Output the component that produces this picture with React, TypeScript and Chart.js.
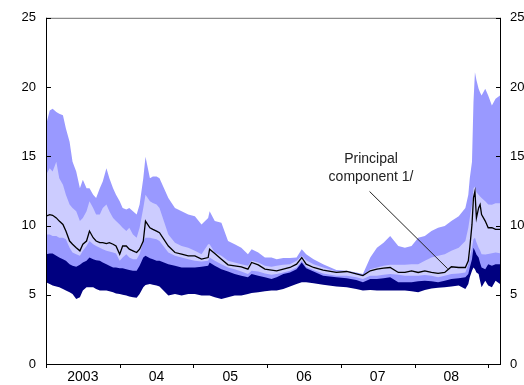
import React, { useEffect, useRef } from "react";
import { Chart, registerables } from "chart.js";

Chart.register(...registerables);

// Time axis (decimal years)
const dates = [
  2003.0, 2003.05, 2003.09, 2003.14, 2003.18, 2003.23, 2003.27, 2003.32, 2003.36, 2003.41,
  2003.46, 2003.5, 2003.55, 2003.59, 2003.64, 2003.68, 2003.73, 2003.77, 2003.82, 2003.86,
  2003.91, 2003.95, 2004.0, 2004.04, 2004.09, 2004.13, 2004.18, 2004.23, 2004.27, 2004.32,
  2004.35, 2004.41, 2004.45, 2004.5, 2004.54, 2004.66, 2004.75, 2004.84, 2004.93, 2005.02,
  2005.11, 2005.2, 2005.22, 2005.29, 2005.38, 2005.47, 2005.56, 2005.65, 2005.74, 2005.79,
  2005.88, 2005.97, 2006.06, 2006.13, 2006.22, 2006.31, 2006.4, 2006.47, 2006.53, 2006.63,
  2006.76, 2006.94, 2007.08, 2007.21, 2007.3, 2007.4, 2007.49, 2007.58, 2007.67, 2007.78,
  2007.87, 2007.96, 2008.05, 2008.14, 2008.23, 2008.32, 2008.41, 2008.5, 2008.6, 2008.69,
  2008.73, 2008.75, 2008.78, 2008.8, 2008.82, 2008.84, 2008.87, 2008.89, 2008.91, 2008.96,
  2009.0, 2009.05, 2009.1, 2009.16,
];

// Lower edge of the dark band (minimum)
const lowEdge = [
  5.9, 5.78, 5.66, 5.6, 5.54, 5.42, 5.3, 5.18, 5.06, 4.7,
  4.82, 5.3, 5.54, 5.54, 5.54, 5.42, 5.3, 5.3, 5.3, 5.25,
  5.18, 5.1, 5.06, 5.0, 4.94, 4.87, 4.82, 4.78, 5.06, 5.54,
  5.7, 5.78, 5.73, 5.66, 5.6, 4.94, 5.06, 4.94, 5.06, 5.06,
  4.94, 4.94, 4.94, 4.82, 4.7, 4.82, 4.94, 4.94, 5.06, 5.12,
  5.18, 5.25, 5.3, 5.3, 5.42, 5.6, 5.78, 5.9, 5.9, 5.83,
  5.73, 5.6, 5.54, 5.42, 5.3, 5.35, 5.3, 5.3, 5.3, 5.3,
  5.3, 5.25, 5.18, 5.35, 5.45, 5.5, 5.55, 5.6, 5.66, 5.42,
  5.78, 6.26, 6.73, 6.97, 6.85, 6.6, 6.5, 6.0, 5.54, 6.02,
  5.66, 5.54, 6.02, 5.78,
];

// Upper edge of the dark band
const darkTop = [
  7.93, 7.98, 7.98, 7.81, 7.69, 7.57, 7.45, 7.21, 7.09, 7.02,
  7.16, 7.33, 7.45, 7.69, 7.57, 7.5, 7.45, 7.33, 7.21, 7.09,
  6.97, 6.97, 6.92, 6.92, 6.85, 6.78, 6.73, 6.73, 7.09, 7.69,
  7.81, 7.64, 7.57, 7.45, 7.45, 7.21, 7.09, 6.97, 6.97, 6.97,
  7.02, 7.09, 7.33, 7.09, 6.85, 6.68, 6.5, 6.38, 6.26, 6.5,
  6.38, 6.26, 6.14, 6.26, 6.5, 6.61, 6.85, 7.33, 6.92, 6.68,
  6.38, 6.26, 6.2, 6.07, 5.9, 6.14, 6.14, 6.2, 6.26, 5.9,
  5.9, 5.9, 5.97, 6.02, 5.97, 5.9, 6.02, 6.14, 6.2, 6.26,
  6.5, 6.97, 7.57, 8.4, 8.17, 7.9, 7.69, 7.3, 6.97, 6.85,
  7.21, 7.09, 7.21, 7.2,
];

// Lower edge of the light band
const lightBottom = [
  9.36, 9.36, 9.24, 9.24, 9.12, 9.12, 9.0, 8.4, 8.05, 7.93,
  7.81, 8.17, 8.52, 8.88, 8.65, 8.52, 8.4, 8.29, 8.17, 8.12,
  8.05, 7.98, 7.45, 7.69, 7.93, 7.69, 7.57, 7.57, 7.93, 8.88,
  9.12, 9.12, 9.07, 9.0, 8.88, 8.05, 7.81, 7.69, 7.57, 7.45,
  7.4, 7.45, 7.69, 7.45, 7.21, 6.97, 6.85, 6.68, 6.5, 6.73,
  6.68, 6.54, 6.45, 6.5, 6.61, 6.73, 6.97, 7.45, 7.02, 6.78,
  6.54, 6.38, 6.38, 6.26, 6.14, 6.38, 6.38, 6.45, 6.5, 6.45,
  6.38, 6.38, 6.38, 6.43, 6.38, 6.26, 6.38, 6.5, 6.54, 6.61,
  7.21, 7.69, 8.4, 9.0, 9.12, 8.8, 8.4, 8.2, 7.93, 7.9,
  7.95, 8.0, 8.05, 8.0,
];

// Upper edge of the light band
const lightTop = [
  13.66, 14.14, 13.9, 14.61, 13.42, 12.94, 12.23, 11.51, 11.27, 11.03,
  10.32, 10.55, 11.03, 11.75, 11.27, 10.79, 10.79, 11.27, 11.51, 11.03,
  10.55, 10.32, 10.08, 9.84, 9.6, 9.84, 9.36, 9.12, 9.84, 11.27,
  12.23, 11.75, 11.63, 11.51, 11.27, 9.36, 8.76, 8.52, 8.4, 8.17,
  7.93, 8.65, 8.65, 8.05, 7.81, 7.45, 7.33, 7.21, 7.09, 7.45,
  7.33, 7.09, 7.02, 7.09, 7.16, 7.21, 7.45, 7.81, 7.5, 7.21,
  6.97, 6.68, 6.68, 6.5, 6.38, 6.85, 6.97, 7.09, 7.16, 7.16,
  7.16, 7.21, 7.21, 7.45, 7.69, 7.81, 7.93, 8.17, 8.4, 8.88,
  9.84, 10.55, 11.51, 12.7, 12.8, 12.4, 12.23, 12.1, 11.99, 11.75,
  11.51, 11.5, 11.6, 11.6,
];

// Upper edge of the outer band (maximum)
const highEdge = [
  17.24, 18.31, 18.43, 18.19, 18.08, 17.96, 17.0, 16.05, 14.61, 13.9,
  12.7, 13.3, 12.7, 12.7, 12.23, 11.99, 12.7, 13.18, 14.14, 13.42,
  12.7, 12.23, 11.75, 11.27, 11.15, 11.27, 11.03, 10.79, 11.51, 13.42,
  14.97, 13.42, 13.54, 13.54, 13.42, 11.99, 11.27, 11.03, 10.79, 10.67,
  10.08, 10.55, 11.03, 10.32, 10.2, 8.88, 8.65, 8.4, 7.93, 8.29,
  8.05, 7.69, 7.69, 7.57, 7.65, 7.65, 7.69, 8.29, 7.93, 7.57,
  7.21, 6.78, 6.73, 6.61, 6.5, 7.69, 8.4, 8.76, 9.24, 8.52,
  8.4, 8.52, 9.12, 9.24, 9.6, 9.84, 9.96, 10.32, 10.67, 11.27,
  12.23, 13.42, 14.61, 18.9, 21.06, 20.5, 19.87, 19.6, 19.39, 19.87,
  19.39, 18.67, 19.15, 19.39,
];

// Principal component 1/
const principal = [
  10.67, 10.79, 10.74, 10.55, 10.32, 10.08, 9.6, 8.88, 8.65, 8.4,
  8.17, 8.65, 8.88, 9.6, 9.12, 8.88, 8.76, 8.76, 8.69, 8.76,
  8.65, 8.52, 7.93, 8.52, 8.52, 8.29, 8.17, 8.05, 8.29, 8.88,
  10.32, 9.84, 9.72, 9.6, 9.48, 8.52, 8.05, 7.93, 7.81, 7.81,
  7.57, 7.69, 8.29, 7.98, 7.57, 7.16, 7.09, 7.02, 6.85, 7.33,
  7.16, 6.85, 6.78, 6.73, 6.85, 6.97, 7.21, 7.69, 7.21, 6.97,
  6.78, 6.61, 6.68, 6.5, 6.38, 6.73, 6.85, 6.92, 6.97, 6.61,
  6.61, 6.73, 6.61, 6.73, 6.61, 6.54, 6.61, 7.02, 6.97, 6.97,
  7.45, 8.4, 10.08, 11.99, 12.46, 10.55, 11.27, 11.51, 10.79, 10.32,
  9.84, 9.84, 9.72, 9.72,
];

const yTickValues = [0, 5, 10, 15, 20, 25];
const yearTicks = [2003, 2004, 2005, 2006, 2007, 2008, 2009];
const yearLabels = ["2003", "04", "05", "06", "07", "08"];
const xMin = 2003;
const xMax = 2009.16;

const annotationLines = ["Principal", "component 1/"];

const NAVY = "#000080";
const MID = "#9999ff";
const LIGHT = "#ccccff";
const FONT = '"Liberation Sans", Arial, Helvetica, sans-serif';

const pts = (arr: number[]) => dates.map((d, i) => ({ x: d, y: arr[i] }));

const band = (arr: number[], color: string) => ({
  data: pts(arr),
  borderWidth: 0,
  borderColor: color,
  backgroundColor: color,
  fill: "origin",
  pointRadius: 0,
  tension: 0,
});

const decorPlugin = {
  id: "decor",
  afterDraw(chart: any) {
    const { ctx, chartArea: a, scales } = chart;
    const xs = scales.x;
    const ys = scales.y;
    ctx.save();
    // top frame
    ctx.strokeStyle = "#707070";
    ctx.lineWidth = 1;
    ctx.beginPath();
    ctx.moveTo(a.left, a.top + 0.5);
    ctx.lineTo(a.right, a.top + 0.5);
    ctx.stroke();
    // axes
    ctx.strokeStyle = "#000";
    ctx.beginPath();
    ctx.moveTo(a.left + 0.5, a.top);
    ctx.lineTo(a.left + 0.5, a.bottom + 0.5);
    ctx.lineTo(a.right + 0.5, a.bottom + 0.5);
    ctx.moveTo(a.right + 0.5, a.top);
    ctx.lineTo(a.right + 0.5, a.bottom + 0.5);
    ctx.stroke();
    // inward y ticks
    ctx.beginPath();
    yTickValues.forEach((v) => {
      const py = Math.round(ys.getPixelForValue(v)) + 0.5;
      ctx.moveTo(a.left, py);
      ctx.lineTo(a.left + 5, py);
      ctx.moveTo(a.right + 1, py);
      ctx.lineTo(a.right - 4, py);
    });
    // x ticks
    yearTicks.forEach((v) => {
      const px = Math.round(xs.getPixelForValue(v)) + 0.5;
      ctx.moveTo(px, a.bottom);
      ctx.lineTo(px, a.bottom + 4);
    });
    ctx.stroke();
    // annotation
    ctx.fillStyle = "#222";
    ctx.font = `14px ${FONT}`;
    ctx.textAlign = "center";
    ctx.textBaseline = "middle";
    const ax = xs.getPixelForValue(2007.41);
    ctx.fillText(annotationLines[0], ax, ys.getPixelForValue(14.76));
    ctx.fillText(annotationLines[1], ax, ys.getPixelForValue(13.5));
    ctx.strokeStyle = "#222";
    ctx.beginPath();
    ctx.moveTo(xs.getPixelForValue(2007.39), ys.getPixelForValue(12.46));
    ctx.lineTo(xs.getPixelForValue(2008.45), ys.getPixelForValue(6.88));
    ctx.stroke();
    ctx.restore();
  },
};

export default function App() {
  const ref = useRef<HTMLCanvasElement | null>(null);

  useEffect(() => {
    document.body.style.margin = "0";
    const canvas = ref.current;
    if (!canvas) return;
    Chart.defaults.font.family = FONT;
    const chart = new Chart(canvas, {
      type: "line",
      data: {
        datasets: [
          {
            data: pts(principal),
            borderColor: "#000",
            borderWidth: 1.3,
            pointRadius: 0,
            fill: false,
            tension: 0,
          } as any,
          band(lowEdge, "#ffffff"),
          band(darkTop, NAVY),
          band(lightBottom, MID),
          band(lightTop, LIGHT),
          band(highEdge, MID),
        ],
      },
      options: {
        animation: false,
        responsive: false,
        maintainAspectRatio: false,
        layout: { padding: { top: 15, left: 0, right: 0, bottom: 0 } },
        plugins: {
          legend: { display: false },
          tooltip: { enabled: false },
          title: { display: false },
        },
        scales: {
          x: {
            type: "linear",
            position: "bottom",
            min: xMin,
            max: xMax,
            grid: { display: false, drawTicks: false },
            border: { display: false },
            afterBuildTicks: (s: any) => {
              s.ticks = yearLabels.map((_, i) => ({ value: yearTicks[i] + 0.5 }));
            },
            afterFit: (s: any) => {
              s.height = 21;
            },
            ticks: {
              autoSkip: false,
              maxRotation: 0,
              padding: 5,
              color: "#000",
              font: { size: 14 },
              callback: (_v: any, i: number) => yearLabels[i],
            },
          },
          y: {
            type: "linear",
            position: "left",
            min: 0,
            max: 25,
            grid: { display: false, drawTicks: false },
            border: { display: false },
            afterFit: (s: any) => {
              s.width = 46;
            },
            afterBuildTicks: (s: any) => {
              s.ticks = yTickValues.map((v) => ({ value: v }));
            },
            ticks: { padding: 10, color: "#000", font: { size: 13 } },
          },
          y2: {
            type: "linear",
            position: "right",
            min: 0,
            max: 25,
            grid: { display: false, drawTicks: false },
            border: { display: false },
            afterFit: (s: any) => {
              s.width = 24;
            },
            afterBuildTicks: (s: any) => {
              s.ticks = yTickValues.map((v) => ({ value: v }));
            },
            ticks: { padding: 10, color: "#000", font: { size: 13 } },
          },
        },
      } as any,
      plugins: [decorPlugin],
    });
    return () => chart.destroy();
  }, []);

  return (
    <canvas
      ref={ref}
      width={524}
      height={385}
      style={{ width: 524, height: 385, display: "block" }}
    />
  );
}
